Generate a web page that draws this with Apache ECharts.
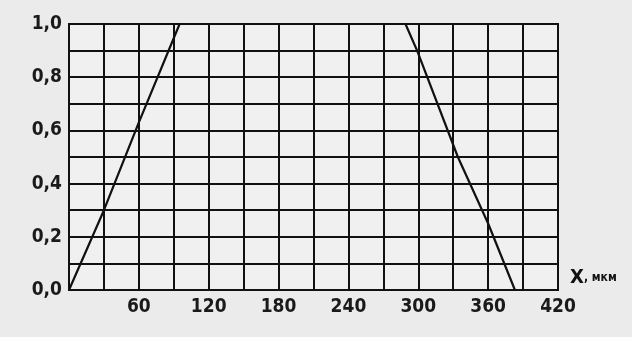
<!DOCTYPE html>
<html><head><meta charset="utf-8">
<script src="https://cdn.jsdelivr.net/npm/echarts@6/dist/echarts.min.js"></script>
<style>html,body{margin:0;padding:0;background:#ebebeb;}#c{width:632px;height:337px;}</style>
</head><body><div id="c"></div>
<script>
var xLabels = [60, 120, 180, 240, 300, 360, 420];
var yLabels = [0.0, 0.2, 0.4, 0.6, 0.8, 1.0];
var risingX = [0, 30, 60, 95];
var risingY = [0, 0.3, 0.63, 1.0];
var fallingX = [289, 299, 334, 360, 383];
var fallingY = [1.0, 0.9, 0.5, 0.25, 0];

function pairs(xs, ys){ return xs.map(function(x,i){ return [x, ys[i]]; }); }
var font = "'DejaVu Sans Condensed',sans-serif";
var chart = echarts.init(document.getElementById('c'));
chart.setOption({
  backgroundColor: '#ebebeb',
  animation: false,
  grid: {left: 69, right: 74, top: 24, bottom: 47, show: true, backgroundColor: '#f0f0f0', borderColor: '#111', borderWidth: 2},
  xAxis: {
    type: 'value', min: 0, max: 420, interval: 30,
    name: '{a|X}{b|, мкм}', nameLocation: 'end', nameGap: 12,
    nameTextStyle: {verticalAlign: 'bottom', padding: [0,0,2,0], rich: {
      a: {fontFamily: font, fontSize: 20, fontWeight: 'bold', color: '#111'},
      b: {fontFamily: font, fontSize: 12, fontWeight: 'bold', color: '#111'}
    }},
    axisLine: {show: false}, axisTick: {show: false},
    splitLine: {show: true, lineStyle: {color: '#111', width: 2}},
    axisLabel: {
      margin: 8, fontFamily: font, fontSize: 19, fontWeight: 'bold', color: '#1a1a1a',
      formatter: function(v){ return xLabels.indexOf(v) >= 0 ? String(v) : ''; }
    }
  },
  yAxis: {
    type: 'value', min: 0, max: 1, interval: 0.1,
    axisLine: {show: false}, axisTick: {show: false},
    splitLine: {show: true, lineStyle: {color: '#111', width: 2}},
    axisLabel: {
      margin: 7, fontFamily: font, fontSize: 19, fontWeight: 'bold', color: '#1a1a1a',
      formatter: function(v){
        var r = Math.round(v*10)/10;
        for (var i=0;i<yLabels.length;i++){ if (Math.abs(yLabels[i]-r)<1e-9) return r.toFixed(1).replace('.', ','); }
        return '';
      }
    }
  },
  series: [
    {type: 'line', data: pairs(risingX, risingY), showSymbol: false, lineStyle: {color: '#111', width: 2.2}, z: 5},
    {type: 'line', data: pairs(fallingX, fallingY), showSymbol: false, lineStyle: {color: '#111', width: 2.2}, z: 5}
  ]
});
</script></body></html>
